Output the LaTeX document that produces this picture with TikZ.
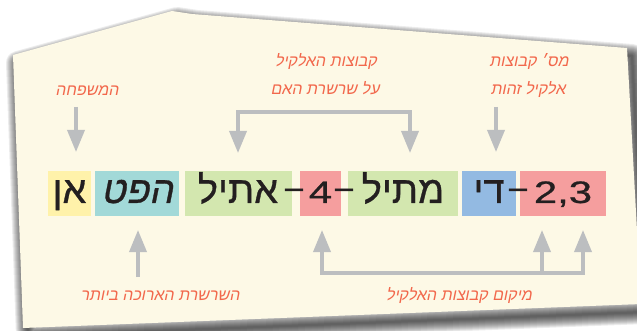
\documentclass[tikz,border=0pt]{standalone}
\usepackage{fontspec}
\usetikzlibrary{arrows.meta}
\TeXXeTstate=1
\newfontfamily\hebfont[Script=Hebrew,FakeBold=0.8]{Liberation Sans}
\newfontfamily\hebboxslant[Script=Hebrew,FakeSlant=0.2,FakeBold=0.8]{Liberation Sans}
\newfontfamily\hebslant[Script=Hebrew,FakeSlant=0.2]{Liberation Sans}
\newfontfamily\digfont[FakeStretch=1.35,FakeBold=0.8]{Liberation Sans}
\definecolor{paper}{RGB}{253,249,230}
\definecolor{salmon}{RGB}{242,104,76}
\definecolor{arrowgray}{RGB}{188,190,192}
\definecolor{ink}{RGB}{35,31,32}
\definecolor{cyellow}{RGB}{255,242,170}
\definecolor{cteal}{RGB}{162,217,216}
\definecolor{cgreen}{RGB}{211,231,175}
\definecolor{cred}{RGB}{245,158,158}
\definecolor{cblue}{RGB}{147,186,226}
\tikzset{
  box/.style={minimum height=45pt, inner sep=0pt, text height=25pt, text depth=6pt, text=ink,
    font={\hebfont\fontsize{38pt}{41pt}\selectfont}},
  dashnode/.style={anchor=base, inner sep=0pt, text=ink, font={\hebfont\fontsize{32pt}{34pt}\selectfont}},
  lab/.style={anchor=base, inner sep=0pt, text=salmon, font={\hebslant\fontsize{16pt}{18pt}\selectfont}},
  arrtip/.tip={Triangle[width=17pt,length=22pt]},
  arr/.style={draw=arrowgray, line width=3.5pt, -arrtip},
  arrboth/.style={draw=arrowgray, line width=3.5pt, arrtip-arrtip},
}
\begin{document}
\begin{tikzpicture}[x=1pt,y=-1pt]
\useasboundingbox (0,0) rectangle (637,331);
\fill[white] (0,0) rectangle (637,331);
% shadow
\foreach \i in {1,...,12}{
  \draw[black, opacity=0.075, line width={\i*2pt}, line join=round, shift={(5,8)}]
    (13,55) -- (172,11) -- (192,14) -- (627,48) -- (641,304) -- (23,328) -- cycle;
}
% paper
\fill[paper] (13,55) -- (172,11) -- (192,14) -- (627,48) -- (641,304) -- (23,328) -- cycle;

% coloured boxes
\node[box, fill=cyellow, minimum width=43pt]  (fam)  at (69.5,193.5) {\beginR אן\endR};
\node[box, fill=cteal,   minimum width=84pt, font={\hebboxslant\fontsize{38pt}{41pt}\selectfont}] (chain) at (137,193.5) {\beginR הפט\endR};
\node[box, fill=cgreen,  minimum width=107pt] (ethyl) at (238,193.5) {\beginR אתיל\endR};
\node[box, fill=cred,    minimum width=41pt, font={\digfont\fontsize{31pt}{34pt}\selectfont}] (four) at (320.5,193.5) {4};
\node[box, fill=cgreen,  minimum width=110pt] (methyl) at (403,193.5) {\beginR מתיל\endR};
\node[box, fill=cblue,   minimum width=54pt]  (di) at (489,193.5) {\beginR די\endR};
\node[box, fill=cred,    minimum width=86pt, font={\digfont\fontsize{31pt}{34pt}\selectfont}] (locs) at (563,193.5) {2,3};
% dashes
\node[dashnode] (d1) at (294,198) {–};
\node[dashnode] (d2) at (344,198) {–};
\node[dashnode] (d3) at (518,198) {–};

% labels
\node[lab] (lfam) at (87,96) {\beginR המשפחה\endR};
\node[lab] (lalk1) at (326,67) {\beginR קבוצות האלקיל\endR};
\node[lab] (lalk2) at (325,95) {\beginR על שרשרת האם\endR};
\node[lab] (lnum1) at (529,67) {\beginR מס׳ קבוצות\endR};
\node[lab] (lnum2) at (528,95) {\beginR אלקיל זהות\endR};
\node[lab] (llong) at (160,300) {\beginR השרשרת הארוכה ביותר\endR};
\node[lab] (lpos) at (459,300) {\beginR מיקום קבוצות האלקיל\endR};

% arrow end points
\coordinate (famS) at (76,107);  \coordinate (famE) at (76,152);
\coordinate (numS) at (496,107); \coordinate (numE) at (496,152);
\coordinate (brL) at (238,153);  \coordinate (brR) at (410,153);
\coordinate (lngS) at (138,277); \coordinate (lngE) at (138,230);
\coordinate (p1) at (322,230); \coordinate (p2) at (542,230); \coordinate (p3) at (583,230);
\coordinate (p2S) at (542,273);

\draw[arr] (famS) -- (famE);
\draw[arr] (numS) -- (numE);
\draw[arrboth] (brL) -- ++(0,-41) -| (brR);
\draw[arr] (lngS) -- (lngE);
\draw[arrboth] (p1) -- ++(0,43) -| (p3);
\draw[arr] (p2S) -- (p2);
\end{tikzpicture}
\end{document}
